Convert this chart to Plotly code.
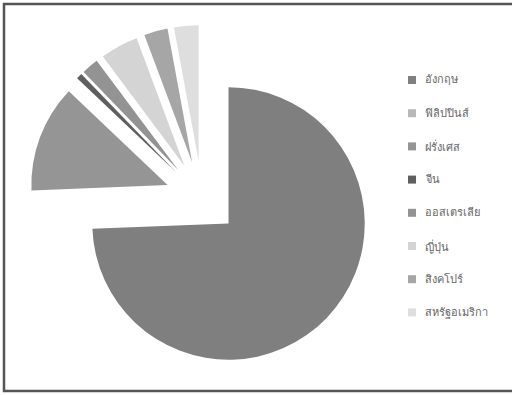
import plotly.graph_objects as go

# Share of each country (percent), in clockwise order from 12 o'clock
countries = ["อังกฤษ", "ฟิลิปปินส์", "ฝรั่งเศส", "จีน", "ออสเตรเลีย", "ญี่ปุ่น", "สิงคโปร์", "สหรัฐอเมริกา"]
shares = [74.3, 0.0, 12.7, 0.7, 2.0, 4.5, 2.8, 2.9]
slice_colors = ["#7f7f7f", "#b8b8b8", "#959595", "#5f5f5f", "#939393", "#d4d4d4", "#a6a6a6", "#dedede"]

W, H = 512, 395

fig = go.Figure()
fig.add_trace(go.Pie(
    labels=countries,
    values=shares,
    sort=False,
    direction="clockwise",
    rotation=0,
    pull=[0.27] * len(countries),
    marker=dict(colors=slice_colors, line=dict(width=0)),
    textinfo="none",
    hoverinfo="label+percent",
    showlegend=False,
    domain=dict(x=[28 / W, 376 / W], y=[24 / H, 370 / H]),
))

# Legend drawn as swatches plus labels, one row per country
shapes = []
annotations = []
row_top = 80
row_step = 33.2
for i, (name, col) in enumerate(zip(countries, slice_colors)):
    yc = row_top + i * row_step
    shapes.append(dict(type="rect", xref="paper", yref="paper",
                       x0=408 / W, x1=416 / W,
                       y0=1 - (yc + 4) / H, y1=1 - (yc - 4) / H,
                       fillcolor=col, line=dict(width=0)))
    annotations.append(dict(text=name, xref="paper", yref="paper",
                            x=423 / W, y=1 - yc / H, xanchor="left", yanchor="middle",
                            showarrow=False,
                            font=dict(size=11, color="#666666")))

# Chart frame
shapes.append(dict(type="rect", xref="paper", yref="paper",
                   x0=4 / W, x1=520 / W, y0=1 - 391 / H, y1=1 - 4 / H,
                   line=dict(color="#555555", width=2.5), fillcolor="rgba(0,0,0,0)"))

fig.update_layout(
    width=W, height=H,
    margin=dict(l=0, r=0, t=0, b=0),
    paper_bgcolor="white",
    plot_bgcolor="white",
    font=dict(family="Tahoma, 'DejaVu Sans', sans-serif"),
    shapes=shapes,
    annotations=annotations,
)

fig.write_html("out.html")
